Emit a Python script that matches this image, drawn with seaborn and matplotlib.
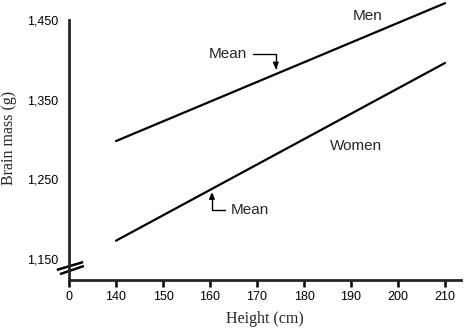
import matplotlib
matplotlib.use("Agg")
import matplotlib.pyplot as plt
import seaborn as sns
import pandas as pd

# data
heights = [140, 210]
men_mass = [1298, 1471]
women_mass = [1173, 1396]
x_ticks = [130, 140, 150, 160, 170, 180, 190, 200, 210]
x_tick_labels = ["0", "140", "150", "160", "170", "180", "190", "200", "210"]
y_ticks = [1150, 1250, 1350, 1450]
y_tick_labels = ["1,150", "1,250", "1,350", "1,450"]

df = pd.DataFrame({
    "Height": heights + heights,
    "Mass": men_mass + women_mass,
    "Sex": ["Men"] * len(heights) + ["Women"] * len(heights),
})

sns.set_style("ticks")
plt.rcParams["font.family"] = ["Liberation Sans", "DejaVu Sans"]

fig = plt.figure(figsize=(4.66, 3.30), dpi=100)
ax = fig.add_axes([69 / 466, 50 / 330, 392 / 466, 280 / 330])

sns.lineplot(data=df, x="Height", y="Mass", hue="Sex",
             palette={"Men": "black", "Women": "black"},
             linewidth=1.6, legend=False, ax=ax)

ax.set_xlim(130, 213.4)
ax.set_ylim(1123.7, 1475)

for s in ["top", "right"]:
    ax.spines[s].set_visible(False)
ax.spines["left"].set_bounds(1123.7, 1450)
ax.spines["left"].set_linewidth(2.0)
ax.spines["bottom"].set_linewidth(2.0)

ax.set_xticks(x_ticks)
ax.set_xticklabels(x_tick_labels, fontsize=9)
ax.set_yticks(y_ticks)
ax.set_yticklabels(y_tick_labels, fontsize=9)
ax.tick_params(axis="x", direction="out", length=5, width=1.8, pad=3, colors="black")
ax.tick_params(axis="y", length=0, pad=8, colors="black")

ax.set_xlabel("Height (cm)", family="Liberation Serif", fontsize=11.5, labelpad=6)
ax.set_ylabel("Brain mass (g)", family="Liberation Serif", fontsize=11.5)
ax.yaxis.set_label_coords(-0.133, 0.507)

# axis break marks
for (x0, y0, x1, y1) in [(-0.031, 0.036, 0.036, 0.064), (-0.023, 0.021, 0.038, 0.050)]:
    ax.plot([x0, x1], [y0, y1], transform=ax.transAxes, color="black",
            lw=1.8, clip_on=False, solid_capstyle="butt")

# labels
ax.text(193.6, 1455, "Men", fontsize=11, ha="center", va="center")
ax.text(191.1, 1292, "Women", fontsize=11, ha="center", va="center")

ax.annotate("Mean", xy=(174.0, 1388), xytext=(163.8, 1407),
            fontsize=11, ha="center", va="center",
            arrowprops=dict(arrowstyle="-|>,head_length=0.35,head_width=0.15",
                            connectionstyle="angle,angleA=0,angleB=90,rad=0",
                            color="black", lw=1.0, shrinkA=2, shrinkB=0))
ax.annotate("Mean", xy=(160.4, 1234), xytext=(168.5, 1211.6),
            fontsize=11, ha="center", va="center",
            arrowprops=dict(arrowstyle="-|>,head_length=0.35,head_width=0.15",
                            connectionstyle="angle,angleA=0,angleB=90,rad=0",
                            color="black", lw=1.0, shrinkA=2, shrinkB=0))

fig.savefig("out.png", dpi=100)
